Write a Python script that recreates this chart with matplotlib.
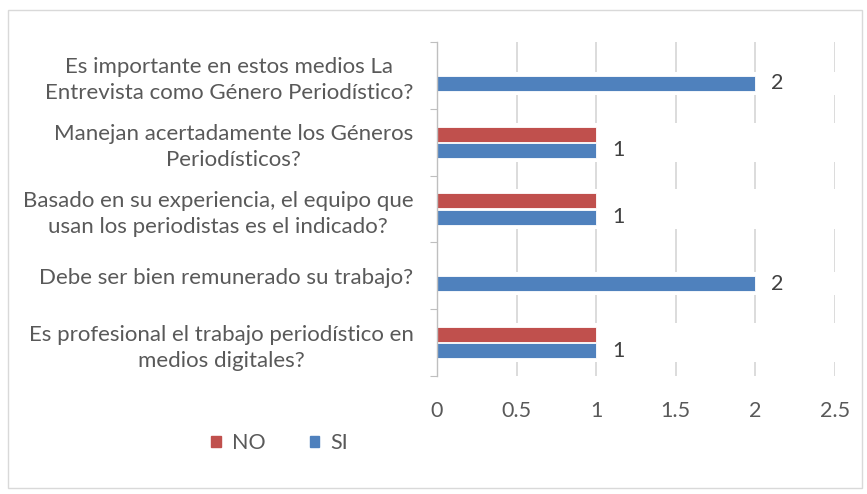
import matplotlib
matplotlib.use("Agg")
import matplotlib.pyplot as plt
from matplotlib.patches import Rectangle, Patch

categories = [
    "Es profesional el trabajo periodístico en\nmedios digitales?",
    "Debe ser bien remunerado su trabajo?",
    "Basado en su experiencia, el equipo que\nusan los periodistas es el indicado?",
    "Manejan acertadamente los Géneros\nPeriodísticos?",
    "Es importante en estos medios La\nEntrevista como Género Periodístico?",
]
no_values = [1, 0, 1, 1, 0]
si_values = [1, 2, 1, 1, 2]
x_ticks = [0, 0.5, 1, 1.5, 2, 2.5]
x_tick_labels = ["0", "0.5", "1", "1.5", "2", "2.5"]

plt.rcParams['font.family'] = ['Lato', 'DejaVu Sans']
RED = "#C0504D"
BLUE = "#4F81BD"
TXT = "#595959"
GRID = "#D9D9D9"

fig = plt.figure(figsize=(8.67, 4.94), dpi=100)
fig.patches.append(Rectangle((8/867, 1-488/494), (862-8)/867, (488-10)/494,
                             transform=fig.transFigure, fill=False,
                             edgecolor=GRID, linewidth=1))
ax = fig.add_axes([437/867, 1-376/494, (835-437)/867, (376-42)/494])

h = 0.225
off = 0.12
ys = list(range(len(categories)))
ax.set_xlim(0, 2.5)
ax.set_ylim(-0.5, len(categories) - 0.5)

for x in x_ticks[1:]:
    ax.axvline(x, color=GRID, linewidth=1.3, zorder=0)

pad = 0.06
for y, nv, sv in zip(ys, no_values, si_values):
    if nv > 0:
        ax.axhspan(y + off - h/2 - pad, y + off + h/2 + pad, color="white", zorder=0.5, linewidth=0)
    if sv > 0:
        ax.axhspan(y - off - h/2 - pad, y - off + h/2 + pad, color="white", zorder=0.5, linewidth=0)

no_y = [y + off for y, v in zip(ys, no_values) if v > 0]
no_v = [v for v in no_values if v > 0]
ax.barh(no_y, no_v, height=h, color=RED, edgecolor="white", linewidth=0.6, zorder=2)
ax.barh([y - off for y in ys], si_values, height=h, color=BLUE, edgecolor="white", linewidth=0.6, zorder=2)

for y, v in zip(ys, si_values):
    ax.annotate(str(v), (v, y - off), xytext=(11.5, 0), textcoords="offset points",
                va="center", ha="left", fontsize=15.5, color="#404040")

ax.set_xticks(x_ticks)
ax.set_xticklabels(x_tick_labels)
ax.tick_params(axis="x", length=0, pad=18, labelsize=15.5, labelcolor=TXT)

ax.set_yticks([y - 0.5 for y in ys] + [len(ys) - 0.5], minor=False)
ax.set_yticklabels([])
ax.tick_params(axis="y", which="major", length=5, color="#BFBFBF", direction="out")
ax.set_yticks(ys, minor=True)
ax.set_yticklabels(categories, minor=True, fontsize=16, color=TXT, ha="right",
                   multialignment="center", linespacing=1.38)
ax.tick_params(axis="y", which="minor", length=0, pad=17)

for s in ["top", "right", "bottom"]:
    ax.spines[s].set_visible(False)
ax.spines["left"].set_color("#BFBFBF")
ax.spines["left"].set_linewidth(1)

handles = [Patch(facecolor=RED, edgecolor=RED), Patch(facecolor=BLUE, edgecolor=BLUE)]
fig.legend(handles, ["NO", "SI"], loc="center left", bbox_to_anchor=(192/867, 1-443/494),
           ncol=2, frameon=False, handlelength=0.45, handleheight=0.45, handletextpad=0.5,
           columnspacing=2.05, fontsize=15.5, labelcolor=TXT)

fig.savefig("out.png", dpi=100)
